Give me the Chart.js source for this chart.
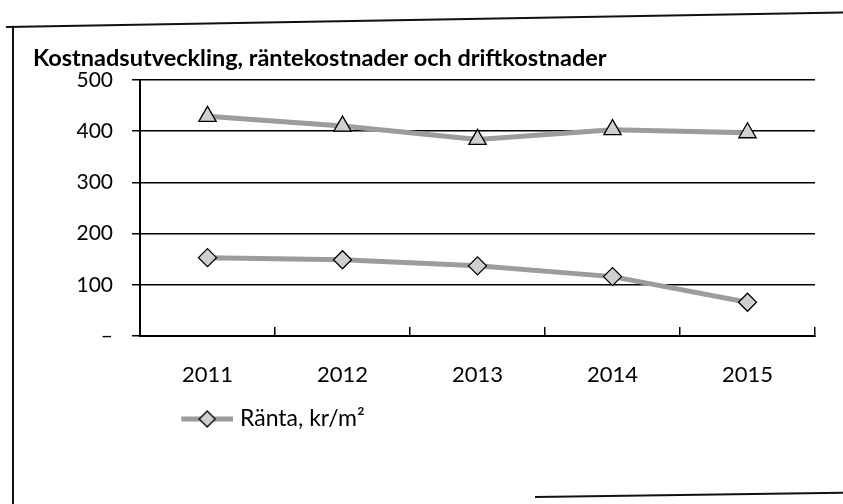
<!DOCTYPE html>
<html>
<head>
<meta charset="utf-8">
<script src="https://cdn.jsdelivr.net/npm/chart.js@4"></script>
<style>
  html, body { margin: 0; padding: 0; background: #fff; }
  #wrap { position: relative; width: 843px; height: 504px; overflow: hidden; }
  #chart { position: absolute; left: 0; top: 0; }
  .frameLeft { position: absolute; left: 12px; top: 26px; width: 2px; height: 480px; background: #111; }
  .frameTop { position: absolute; left: 6px; top: 26px; width: 845px; height: 2px; background: #111;
              transform-origin: 0 0; transform: rotate(-1deg); }
  .frameBottom { position: absolute; left: 535px; top: 496px; width: 310px; height: 2px; background: #111;
                 transform-origin: 0 0; transform: rotate(-0.8deg); }
</style>
</head>
<body>
<div id="wrap">
  <canvas id="chart" width="843" height="504"></canvas>
  <div class="frameLeft"></div>
  <div class="frameTop"></div>
  <div class="frameBottom"></div>
</div>
<script>
// data
const years = ["2011", "2012", "2013", "2014", "2015"];
const rantaValues = [153, 149, 137, 116, 66];
const driftValues = [429, 410, 384, 403, 397];
const yTicks = [0, 100, 200, 300, 400, 500];

const font = "Lato, 'Open Sans', sans-serif";
const lineGray = "#9c9c9c";
const markerFill = "#cfcfcf";

// legend symbol: grey line with a diamond, sitting in the right part of the image
function legendSymbol() {
  const c = document.createElement("canvas");
  c.width = 90;
  c.height = 18;
  const g = c.getContext("2d");
  g.strokeStyle = lineGray;
  g.lineWidth = 5;
  g.beginPath();
  g.moveTo(38, 9);
  g.lineTo(90, 9);
  g.stroke();
  g.fillStyle = markerFill;
  g.strokeStyle = "#000";
  g.lineWidth = 1.3;
  g.beginPath();
  g.moveTo(64, 1);
  g.lineTo(72, 9);
  g.lineTo(64, 17);
  g.lineTo(56, 9);
  g.closePath();
  g.fill();
  g.stroke();
  return c;
}
const rantaSymbol = legendSymbol();

const ctx = document.getElementById("chart").getContext("2d");

new Chart(ctx, {
  type: "line",
  data: {
    labels: years,
    datasets: [
      {
        label: "Ränta, kr/m²",
        data: rantaValues,
        borderColor: lineGray,
        borderWidth: 5,
        pointStyle: "rectRot",
        pointRadius: 9,
        pointBackgroundColor: markerFill,
        pointBorderColor: "#000",
        pointBorderWidth: 1.3,
        tension: 0
      },
      {
        label: "Drift, kr/m²",
        data: driftValues,
        borderColor: lineGray,
        borderWidth: 5,
        pointStyle: "triangle",
        pointRadius: 10,
        pointBackgroundColor: markerFill,
        pointBorderColor: "#000",
        pointBorderWidth: 1.3,
        tension: 0
      }
    ]
  },
  options: {
    responsive: false,
    animation: false,
    layout: { padding: { top: 44, left: 33, right: 28, bottom: 63.5 } },
    plugins: {
      title: {
        display: true,
        text: "Kostnadsutveckling, räntekostnader och driftkostnader",
        align: "start",
        color: "#000",
        font: { family: font, size: 23.5, weight: "bold" },
        padding: { top: 0, bottom: 7.8 }
      },
      legend: {
        position: "bottom",
        align: "start",
        fullSize: false,
        labels: {
          color: "#000",
          font: { family: font, size: 23 },
          padding: 8,
          usePointStyle: true,
          pointStyleWidth: 80.5,
          filter: (item) => item.datasetIndex === 0,
          generateLabels: (chart) => {
            const items = Chart.defaults.plugins.legend.labels.generateLabels(chart);
            items.forEach(it => { it.pointStyle = rantaSymbol; });
            return items;
          }
        }
      },
      tooltip: { enabled: false }
    },
    scales: {
      x: {
        offset: true,
        afterFit: (scale) => { scale.height = 63.5; },
        border: { color: "#000", width: 2 },
        grid: {
          offset: true,
          drawOnChartArea: false,
          drawTicks: true,
          tickLength: -9,
          color: "#000",
          lineWidth: 1.5
        },
        ticks: {
          color: "#000",
          padding: 35,
          font: { family: font, size: 22 }
        }
      },
      y: {
        min: 0,
        max: 500,
        afterFit: (scale) => { scale.width = 107; },
        afterBuildTicks: (scale) => { scale.ticks = yTicks.map(v => ({ value: v })); },
        border: { color: "#000", width: 2 },
        grid: {
          color: "#000",
          lineWidth: 1.5,
          tickLength: 8
        },
        ticks: {
          color: "#000",
          padding: 19,
          font: { family: font, size: 21 },
          callback: (v) => (v === 0 ? "–" : v)
        }
      }
    }
  }
});
</script>
</body>
</html>
